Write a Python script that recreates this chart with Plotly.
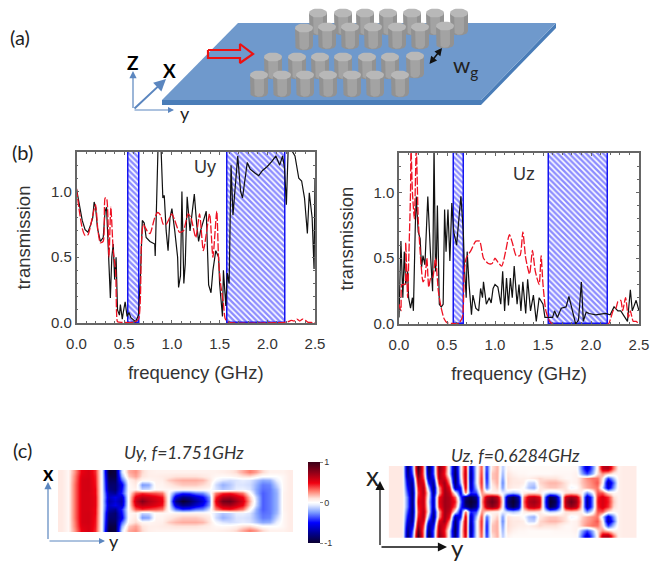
import numpy as np
import plotly.graph_objects as go

W, H = 665, 563
PAGE_INSET = 8  # the page's own body margin
FW, FH = W - PAGE_INSET, H - PAGE_INSET

# ---- transmission spectra (frequency GHz, transmission) ----
uy_black_f = [0,.03,.06,.09,.12,.15,.17,.185,.2,.22,.25,.28,.30,.315,.33,.345,.355,.37,.385,.40,.415,.43,.45,.46,.48,.49,.51,.53,.55,.57,.6,.62,.65,.67,.69,.71,.73,.77,.82,.825,.855,.885,.905,.92,.94,.96,.98,1.0,1.03,1.06,1.07,1.09,1.105,1.125,1.14,1.16,1.19,1.21,1.235,1.26,1.28,1.3,1.33,1.36,1.385,1.41,1.43,1.46,1.49,1.5,1.53,1.54,1.565,1.58,1.6,1.62,1.64,1.69,1.72,1.74,1.79,1.82,1.87,1.91,1.95,2.0,2.05,2.09,2.13,2.16,2.18,2.2,2.22,2.25,2.29,2.33,2.36,2.39,2.42,2.44,2.47,2.49,2.5]
uy_black_t = [1.02,.9,.78,.71,.69,.75,.8,.92,.88,.72,.62,.65,.85,.88,.6,.45,.19,.5,.6,.33,.5,.1,.06,.14,.03,.08,.16,.05,.08,.04,.02,.01,.06,.35,.78,.76,.65,.62,.6,.51,1.35,1.35,.95,.97,.7,.55,.8,.87,.7,.5,.27,.36,1.0,.3,.45,.96,.7,.85,.98,.75,.62,.7,.78,.85,.29,.23,.4,.55,.5,.3,.05,.4,.13,.38,.3,1.2,.82,1.27,1.0,.95,1.22,1.17,1.14,1.12,1.16,1.19,1.23,1.27,1.2,1.27,1.18,.9,1.35,1.32,1.27,1.1,1.08,.95,.68,.99,.8,.41,1.1]
uy_red_f = [0,.03,.06,.09,.12,.15,.18,.2,.225,.25,.28,.3,.315,.34,.36,.385,.41,.42,.43,.48,.6,.65,.68,.7,.74,.77,.82,.85,.88,.91,.94,1.0,1.03,1.08,1.12,1.17,1.2,1.25,1.29,1.33,1.395,1.43,1.47,1.49,1.51,1.54,1.56,1.6,2.18,2.22,2.25,2.28,2.31,2.34,2.37,2.4,2.43,2.46,2.5]
uy_red_t = [1.02,.85,.72,.665,.67,.75,.85,.9,.7,.61,.62,.95,.95,.5,.88,.55,.4,.08,.01,.005,.005,.03,.6,.75,.7,.68,.8,.84,.82,.75,.75,.83,.78,.69,.7,.83,.8,.65,.83,.55,.83,.5,.85,.47,.3,.15,.03,.005,.005,.01,.02,.015,.03,.015,.03,.02,.005,.005,.0]

uz_black_f = [0,.02,.04,.055,.07,.09,.1,.12,.14,.15,.17,.18,.2,.22,.235,.25,.27,.3,.33,.35,.365,.38,.39,.4,.42,.44,.46,.475,.49,.51,.53,.55,.57,.6,.63,.645,.67,.68,.7,.71,.73,.755,.77,.8,.83,.85,.87,.88,.91,.94,.96,.98,1.0,1.03,1.06,1.08,1.1,1.12,1.14,1.16,1.18,1.2,1.23,1.25,1.27,1.29,1.32,1.34,1.37,1.4,1.43,1.46,1.5,1.52,1.55,1.6,1.62,1.65,1.69,1.74,1.77,1.8,1.84,1.87,1.9,1.92,1.95,1.98,2.05,2.15,2.2,2.24,2.28,2.31,2.35,2.38,2.41,2.43,2.47,2.5]
uz_black_t = [.05,.63,.2,.55,.3,.4,.2,.12,.2,.1,.75,.97,.7,.65,.43,.52,.45,.97,.5,.25,1.35,.4,.5,.9,.15,.13,.15,.87,.55,.87,.48,.92,.7,.6,.85,.97,.7,.45,.2,.55,.3,.07,.22,.12,.1,.27,.2,.32,.15,.2,.16,.27,.3,.28,.15,.4,.1,.35,.14,.35,.2,.44,.15,.3,.1,.32,.08,.34,.1,.22,.02,.2,.15,.05,.05,.05,.1,.05,.12,.13,.21,.12,.0,.03,.32,.02,.09,.08,.07,.08,.07,.13,.1,.1,.05,.02,.26,.1,.18,.1]
uz_red_f = [0,.02,.03,.06,.07,.09,.1,.12,.125,.14,.16,.18,.2,.23,.25,.27,.29,.31,.33,.35,.38,.41,.44,.47,.5,.55,.62,.66,.68,.7,.75,.8,.84,.88,.93,.97,1.0,1.03,1.07,1.11,1.15,1.18,1.22,1.26,1.29,1.32,1.36,1.39,1.42,1.46,1.48,1.5,1.53,1.57,1.6,2.18,2.2,2.23,2.26,2.28,2.31,2.33,2.36,2.39,2.41,2.44,2.47,2.5]
uz_red_t = [.15,.1,.3,.3,.62,.2,.45,1.0,1.35,1.0,.8,1.35,.8,.45,.32,.35,.5,.28,.35,.35,.5,.25,.12,.04,.01,.005,.005,.05,.4,.5,.56,.63,.63,.5,.46,.46,.5,.47,.44,.55,.68,.62,.52,.52,.7,.5,.38,.56,.4,.3,.52,.3,.1,.02,.0,.0,.03,.1,.12,.17,.18,.1,.2,.05,.1,.02,.02,.0]

uy_band_start = [.55, 1.58]
uy_band_end = [.66, 2.19]
uz_band_start = [.57, 1.565]
uz_band_end = [.675, 2.18]
y_top = 1.3

# ---- field maps: half rows, centre line outward, mirrored about the waveguide ----
uy_r0 = [.08,.03,.3,.55,.55,.5,.0,-.7,-.6,-.7,.05,.6,.78,.65,.58,.5,.0,-.8,-1,-.9,-.75,-.6,-.3,.5,.82,.85,.7,.55,.2,-.1,-.35,-.3,-.2,.04,.07]
uy_r1 = [.08,.03,.3,.55,.55,.5,.0,-.65,-.55,-.65,.05,.52,.62,.58,.52,.45,.0,-.6,-.8,-.75,-.62,-.5,-.25,.42,.65,.68,.58,.48,.15,-.12,-.35,-.3,-.2,.04,.07]
uy_r2 = [.08,.03,.3,.55,.55,.48,.0,-.7,-.75,-.45,.03,.35,.42,.38,.35,.3,.0,-.32,-.45,-.42,-.32,-.28,-.1,.28,.42,.45,.38,.3,.03,-.2,-.35,-.3,-.2,.04,.07]
uy_r3 = [.08,.03,.3,.55,.56,.48,.0,-.8,-.85,-.5,.02,.05,-.12,-.1,.02,.03,.03,.04,.05,.05,.05,.04,.02,-.08,-.15,-.12,-.06,-.05,-.08,-.22,-.32,-.3,-.18,.03,.07]
uy_r4 = [.08,.03,.3,.55,.56,.46,.0,-.85,-.85,-.55,.02,.08,-.25,-.22,.04,.04,.08,.12,.15,.15,.15,.12,.08,-.1,-.2,-.15,-.08,-.08,-.1,-.2,-.3,-.28,-.12,.03,.07]
uy_r5 = [.08,.03,.28,.55,.56,.45,.0,-.9,-.9,-.35,.04,.12,.03,.03,.05,.06,.14,.18,.2,.2,.2,.18,.1,-.02,-.08,-.1,-.08,-.06,-.08,-.15,-.22,-.2,-.05,.03,.07]
uy_r6 = [.08,.03,.27,.53,.55,.44,.0,-.95,-.95,-.2,.15,.22,.1,.06,.06,.07,.08,.1,.1,.1,.1,.08,.06,.03,.02,.03,.05,.1,.12,.06,.0,.0,.0,.03,.07]
uy_r7 = [.08,.03,.24,.5,.55,.42,.0,-1,-.95,-.1,.2,.25,.12,.06,.05,.05,.05,.05,.05,.05,.05,.05,.05,.05,.06,.08,.12,.2,.28,.22,.12,.05,.05,.05,.07]

uz_r0 = [.08,.08,.08,-.3,-.85,.5,.6,-.1,-.7,.5,.7,.65,.45,-.3,-.9,-1,-.9,.2,.7,.85,.7,.1,-.85,-1,-.8,.3,.65,.7,.6,-.3,-1,-.9,-.3,.65,.85,.7,.2,-.75,-.3,.45,.55,.45,.15,.05,.07,.07,.07]
uz_r1 = [.08,.08,.08,-.3,-.85,.45,.6,-.05,-.7,.45,.7,.65,.35,-.4,-.8,-.95,-.8,.15,.62,.75,.62,.05,-.75,-.95,-.7,.25,.58,.62,.52,-.25,-.95,-.8,-.25,.58,.72,.62,.15,-.7,-.3,.42,.55,.42,.12,.05,.07,.07,.07]
uz_r2 = [.08,.08,.08,-.4,-.85,.4,.65,.0,-.8,.2,.7,.6,.0,-.6,.35,-.45,-.4,.25,.1,.05,.05,-.05,-.1,-.15,-.1,.05,.1,.1,.08,-.03,-.12,-.1,-.03,.1,.12,.1,.05,-.25,-.05,.35,.35,.1,.02,.05,.07,.07,.07]
uz_r3 = [.08,.08,.08,-.5,-.8,.45,.65,-.2,-.85,.25,.7,.5,-.7,-.5,.6,-.7,-.2,.4,-.35,.05,.15,-.25,.1,.06,.05,.0,-.15,-.2,.08,.12,.15,.15,.12,.1,-.03,.0,.12,.2,.25,.3,-.1,-.6,-.25,.05,.07,.07,.07]
uz_r4 = [.08,.08,.08,-.6,-.75,.6,.55,-.5,-.75,.5,.7,.25,-.85,-.2,.65,-.75,-.1,.45,-.45,.1,.2,-.3,.12,.08,.08,.06,-.1,-.12,.12,.15,.18,.18,.15,.1,.03,.05,.15,.22,.28,.35,.05,-.7,-.35,.05,.07,.07,.07]
uz_r5 = [.08,.08,.08,-.7,-.6,.7,.4,-.75,-.55,.65,.55,.1,-.9,-.1,.65,-.8,-.1,.45,-.5,.15,.2,-.25,.12,.08,.06,.06,.05,.08,.12,.1,.1,.1,.06,.03,.03,.05,.15,.25,.3,.3,.1,-.4,-.15,.05,.07,.07,.07]
uz_r6 = [.08,.08,.08,-.8,-.4,.85,.3,-.85,-.4,.7,.45,-.1,-.9,-.05,.65,-.8,-.1,.42,-.5,.15,.2,-.2,.1,.05,.03,.03,.02,.02,.02,.02,.02,.03,.03,.03,.03,.05,-.2,-.4,-.2,.1,.25,.15,.05,.05,.07,.07,.07]
uz_r7 = [.08,.08,.08,-.85,-.3,.95,.3,-.95,-.4,.75,.5,-.1,-.85,-.05,.6,-.75,-.1,.38,-.45,.1,.2,-.15,.05,.02,.02,.02,.02,.02,.02,.02,.02,.02,.02,.02,.02,.03,-.3,-.6,-.3,.05,.6,.65,.3,.05,.07,.07,.07]

# ---- schematic: plate outline and pillar tops, in picture pixels ----
plate_x = [162, 238, 556, 481]
plate_y = [100, 23, 23, 100]
edge_x = [162, 481, 556, 556, 481, 162]
edge_y = [100, 100, 23, 28, 105, 105]
pillar_row1_x = [318, 343, 365, 388, 412, 435, 459]
pillar_row1_y = [13, 13, 13, 13, 13, 13, 13]
pillar_row2_x = [304, 327, 350, 373, 397, 420, 445]
pillar_row2_y = [28, 27, 27, 27, 27, 27, 26]
pillar_row3_x = [273, 297, 320, 343, 367, 390, 415]
pillar_row3_y = [57, 57, 57, 57, 57, 57, 56]
pillar_row4_x = [259, 282, 305, 328, 352, 375, 400]
pillar_row4_y = [75, 75, 75, 75, 75, 75, 75]
pillar_radius = 9
pillar_ry = 4.5
pillar_height = 18
flow_x = [208, 240, 240, 253, 240, 240, 208, 208]
flow_y = [50, 50, 44, 54, 63, 58, 58, 50]


def fx(px):
    return (px - PAGE_INSET) / FW


def fy(py):
    return 1 - (py - PAGE_INSET) / FH


def dom_x(a, b):
    return [fx(a), fx(b)]


def dom_y(top, bottom):
    return [fy(bottom), fy(top)]


PLOT_COL = "#333333"
AX_COL = "#666666"
colorscale = [[0, "#0b0030"], [.12, "#000090"], [.25, "#0000ff"], [.38, "#7f9fff"], [.47, "#e8eeff"], [.5, "#ffffff"],
              [.55, "#ffe4dc"], [.64, "#ff7f6f"], [.74, "#f00010"], [.87, "#900018"], [1, "#3a0018"]]

fig = go.Figure()


def spectrum(f1, t1, f2, t2, starts, ends, xa, ya):
    for s, e in zip(starts, ends):
        fig.add_trace(go.Bar(x=[(s + e) / 2], y=[y_top], width=[e - s], base=0, xaxis=xa, yaxis=ya,
                             marker=dict(color="white", line=dict(color="#1414f0", width=1.5),
                                         pattern=dict(shape="\\", fgcolor="#1a1aff", bgcolor="white", size=4, solidity=.6))))
    fig.add_trace(go.Scatter(x=f1, y=t1, mode="lines", xaxis=xa, yaxis=ya, line=dict(color="#111111", width=1.2)))
    fig.add_trace(go.Scatter(x=f2, y=t2, mode="lines", xaxis=xa, yaxis=ya,
                             line=dict(color="#ee1122", width=1.3, dash="8px,2px", shape="spline", smoothing=.6)))


spectrum(uy_black_f, uy_black_t, uy_red_f, uy_red_t, uy_band_start, uy_band_end, "x", "y")
spectrum(uz_black_f, uz_black_t, uz_red_f, uz_red_t, uz_band_start, uz_band_end, "x2", "y2")

uy_half = [uy_r0, uy_r1, uy_r2, uy_r3, uy_r4, uy_r5, uy_r6, uy_r7]
uz_half = [uz_r0, uz_r1, uz_r2, uz_r3, uz_r4, uz_r5, uz_r6, uz_r7]
uy_map = uy_half[::-1] + uy_half[1:]
uz_map = uz_half[::-1] + uz_half[1:]
fig.add_trace(go.Heatmap(z=uy_map, xaxis="x3", yaxis="y3", zmin=-1, zmax=1, zsmooth="best", colorscale=colorscale,
                         colorbar=dict(x=fx(308), xanchor="left", y=fy(543), yanchor="bottom", len=81 / FH, lenmode="fraction",
                                       thickness=12, outlinewidth=0, tickvals=[-1, 0, 1], ticktext=["-1", "0", "1"],
                                       ticks="outside", ticklen=3, tickcolor="#888888", xpad=0, ypad=0,
                                       tickfont=dict(family="Liberation Sans", size=9, color=PLOT_COL))))
fig.add_trace(go.Heatmap(z=uz_map, xaxis="x4", yaxis="y4", zmin=-1, zmax=1, zsmooth="best", colorscale=colorscale, showscale=False))

# schematic
fig.add_trace(go.Scatter(x=edge_x, y=edge_y, mode="lines", fill="toself", fillcolor="#4a7db8", line=dict(width=0), xaxis="x5", yaxis="y5"))
fig.add_trace(go.Scatter(x=plate_x, y=plate_y, mode="lines", fill="toself", fillcolor="#6f99cc", line=dict(width=0), xaxis="x5", yaxis="y5"))

t = np.linspace(0, np.pi, 20)
for row_x, row_y in [(pillar_row1_x, pillar_row1_y), (pillar_row2_x, pillar_row2_y), (pillar_row3_x, pillar_row3_y), (pillar_row4_x, pillar_row4_y)]:
    for cx, cy in zip(row_x, row_y):
        body_x = [cx - pillar_radius] + list(cx - pillar_radius * np.cos(t)) + [cx + pillar_radius, cx - pillar_radius]
        body_y = [cy] + list(cy + pillar_height + pillar_ry * np.sin(t)) + [cy, cy]
        fig.add_trace(go.Scatter(x=body_x, y=body_y, mode="lines", fill="toself", fillcolor="#929292", line=dict(width=0), xaxis="x5", yaxis="y5"))
        s = .55
        hi_x = [cx - pillar_radius * s] + list(cx - pillar_radius * s * np.cos(t)) + [cx + pillar_radius * s, cx - pillar_radius * s]
        hi_y = [cy] + list(cy + pillar_height + pillar_ry * .85 * np.sin(t)) + [cy, cy]
        fig.add_trace(go.Scatter(x=hi_x, y=hi_y, mode="lines", fill="toself", fillcolor="#a3a3a3", line=dict(width=0), xaxis="x5", yaxis="y5"))
        a = np.linspace(0, 2 * np.pi, 30)
        fig.add_trace(go.Scatter(x=cx + pillar_radius * np.cos(a), y=cy + pillar_ry * np.sin(a), mode="lines", fill="toself",
                                 fillcolor="#b8b8b8", line=dict(width=0), xaxis="x5", yaxis="y5"))
fig.add_trace(go.Scatter(x=flow_x, y=flow_y, mode="lines", line=dict(color="#ee1111", width=2.2), xaxis="x5", yaxis="y5"))

axis_common = dict(showline=True, linecolor=AX_COL, linewidth=1.5, mirror="allticks", ticks="inside", tickcolor=AX_COL,
                   ticklen=3, tickwidth=1, showgrid=False, zeroline=False, automargin=False,
                   tickfont=dict(family="Liberation Sans", size=15, color=PLOT_COL))
title_font = dict(family="Liberation Sans", size=18.5, color=PLOT_COL)


def xax(domain):
    return dict(axis_common, domain=domain, range=[0, 2.5], tickvals=[0, .5, 1, 1.5, 2, 2.5], ticktext=["0.0", "0.5", "1.0", "1.5", "2.0", "2.5"],
                ticklabelstandoff=6, title=dict(text="frequency (GHz)", font=title_font), minor=dict(dtick=.1, ticks="inside", ticklen=2, tickcolor=AX_COL))


def yax(domain):
    return dict(axis_common, domain=domain, range=[0, y_top], tickvals=[0, .5, 1], ticktext=["0.0", "0.5", "1.0"],
                title=dict(text="transmission", font=title_font), minor=dict(dtick=.1, ticks="inside", ticklen=2, tickcolor=AX_COL))


hidden = dict(visible=False, automargin=False)

ann = []


def label(x, y, text, size=18, color="#222222", family="Lato", italic=False, bold=False):
    txt = text
    if italic:
        txt = f"<i>{txt}</i>"
    if bold:
        txt = f"<b>{txt}</b>"
    ann.append(dict(x=fx(x), y=fy(y), xref="paper", yref="paper", text=txt, showarrow=False,
                    font=dict(family=family, size=size, color=color), xanchor="center", yanchor="middle"))


def arrow(x0, y0, x1, y1, color, width=1.0, size=1.2, side="end", head=2):
    ann.append(dict(x=fx(x1), y=fy(y1), xref="paper", yref="paper", ax=x0 - x1, ay=y0 - y1, axref="pixel", ayref="pixel",
                    text=" ", showarrow=True, arrowcolor=color, arrowwidth=width, arrowsize=size, arrowhead=head, arrowside=side,
                    startarrowhead=head, startarrowsize=size, font=dict(size=1)))


label(20, 37, "(a)", 20)
label(22, 152, "(b)", 20)
label(22, 450, "(c)", 20)
label(205, 167, "Uy", 18, PLOT_COL, "Liberation Sans")
label(524, 174, "Uz", 18, PLOT_COL, "Liberation Sans")
label(184, 452, "Uy, f=1.751GHz", 17.5, "#333333", "Lato", italic=True)
label(515, 455, "Uz, f=0.6284GHz", 17.5, "#333333", "Lato", italic=True)
label(133, 63, "Z", 19, "#000000", "Lato", bold=True)
label(169, 71, "X", 19, "#000000", "Lato", bold=True)
label(185, 113, "y", 18, "#222222")
label(465, 66, "w<sub>g</sub>", 22, "#222222", "Lato")
label(48, 473, "x", 20, "#000000", "Lato", bold=True)
label(114, 541, "y", 18, "#222222")
label(372, 476, "x", 26, "#222222")
label(457, 547, "y", 24, "#222222")

arrow(133, 110, 133, 71, "#5b86bf", 1.2)
arrow(133, 110, 166, 79, "#5b86bf", 2)
arrow(133, 110, 174, 110, "#5b86bf", 1)
arrow(48, 541, 48, 482, "#5b86bf", 1.2)
arrow(48, 541, 105, 541, "#5b86bf", 1)
arrow(380, 547, 380, 481, "#111111", 1.3, 1.4)
arrow(380, 547, 447, 547, "#111111", 1.3, 1.4)
arrow(428, 66, 442, 48, "#111111", 1.5, 1, side="end+start")

fig.update_layout(
    width=FW, height=FH, margin=dict(l=0, r=0, t=0, b=0), paper_bgcolor="white", plot_bgcolor="rgba(0,0,0,0)",
    showlegend=False, barmode="overlay", bargap=0,
    xaxis=dict(xax(dom_x(76.5, 315)), anchor="y"),
    yaxis=dict(yax(dom_y(152, 323)), anchor="x"),
    xaxis2=dict(xax(dom_x(399, 639)), anchor="y2"),
    yaxis2=dict(yax(dom_y(153, 324)), anchor="x2"),
    xaxis3=dict(hidden, domain=dom_x(58, 293), anchor="y3"),
    yaxis3=dict(hidden, domain=dom_y(470, 532), anchor="x3"),
    xaxis4=dict(hidden, domain=dom_x(388.7, 636.7), anchor="y4"),
    yaxis4=dict(hidden, domain=dom_y(466, 537.7), anchor="x4"),
    xaxis5=dict(hidden, domain=[0, 1], range=[PAGE_INSET, W], anchor="y5"),
    yaxis5=dict(hidden, domain=[0, 1], range=[H, PAGE_INSET], anchor="x5"),
    annotations=ann,
)

fig.write_html("out.html")
